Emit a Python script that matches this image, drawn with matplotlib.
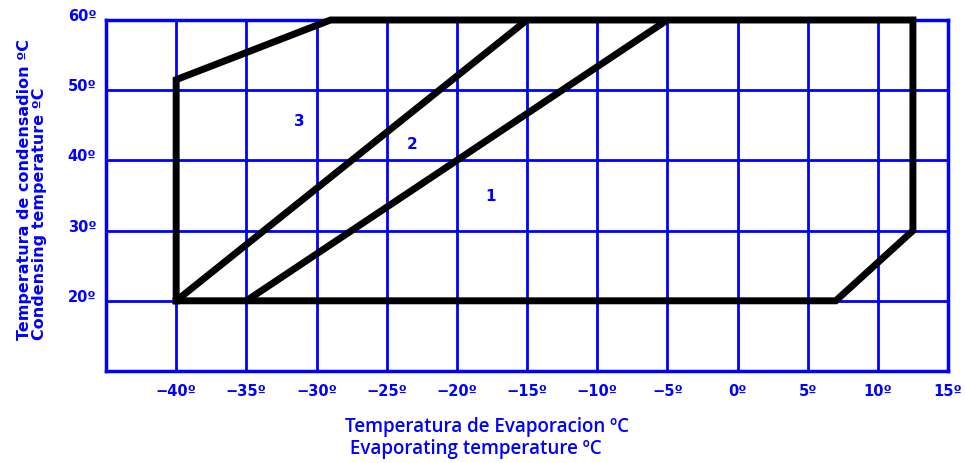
import matplotlib
matplotlib.use("Agg")
import matplotlib.pyplot as plt
import matplotlib.transforms as mtrans

# Data
envelope_x = [-40, -40, -29, 12.5, 12.5, 7, -40]
envelope_y = [20, 51.5, 60, 60, 30, 20, 20]
line2_x = [-40, -15]
line2_y = [20, 60]
line1_x = [-35, -5]
line1_y = [20, 60]
zone_labels = ["1", "2", "3"]
zone_x = [-17.6, -23.2, -31.2]
zone_y = [34.9, 42.3, 45.6]
x_ticks = [-40, -35, -30, -25, -20, -15, -10, -5, 0, 5, 10, 15]
y_ticks = [20, 30, 40, 50, 60]

BLUE = "#0000ff"

fig = plt.figure(figsize=(9.65, 4.63), dpi=100)
ax = fig.add_axes([106/965, 1-371/463, (948-106)/965, (371-20)/463])
ax.set_xlim(-45, 15)
ax.set_ylim(10, 60)

for v in x_ticks:
    ax.axvline(v, color=BLUE, lw=2, zorder=1)
for v in y_ticks:
    ax.axhline(v, color=BLUE, lw=2, zorder=1)
for s in ax.spines.values():
    s.set_color(BLUE)
    s.set_linewidth(2.5)

ax.plot(envelope_x, envelope_y, color="black", lw=5, solid_joinstyle="miter", zorder=3, clip_on=False)
ax.plot(line2_x, line2_y, color="black", lw=5, solid_capstyle="butt", zorder=3)
ax.plot(line1_x, line1_y, color="black", lw=5, solid_capstyle="butt", zorder=3)

for t, x, y in zip(zone_labels, zone_x, zone_y):
    ax.text(x, y, t, color=BLUE, fontsize=11, fontweight="bold", ha="center", va="center", zorder=4)

ax.set_xticks(x_ticks)
ax.set_xticklabels([("\u2212" + str(-v) if v < 0 else str(v)) + "º" for v in x_ticks],
                   color=BLUE, fontsize=10.5, fontweight="bold")
ax.set_yticks(y_ticks)
ax.set_yticklabels([str(v) + "º" for v in y_ticks], color=BLUE, fontsize=10.5, fontweight="bold")
ax.tick_params(axis="x", length=0, pad=9)
ax.tick_params(axis="y", length=0, pad=7)
offset = mtrans.ScaledTranslation(0, 5/100, fig.dpi_scale_trans)
for lbl in ax.get_yticklabels():
    lbl.set_transform(lbl.get_transform() + offset)

fig.text(345/965, 1-438/463, "Temperatura de Evaporacion ºC\n Evaporating temperature ºC",
         color=BLUE, fontsize=13.5, fontfamily="Open Sans", fontweight="semibold",
         ha="left", va="center", linespacing=1.15, multialignment="left")
fig.text(0.033, 1-190/463, "Temperatura de condensadion ºC\nCondensing temperature ºC",
         color=BLUE, fontsize=11.5, fontfamily="DejaVu Sans", fontweight="bold",
         rotation=90, ha="center", va="center", linespacing=1.05, multialignment="left")

fig.savefig("out.png", dpi=100)
